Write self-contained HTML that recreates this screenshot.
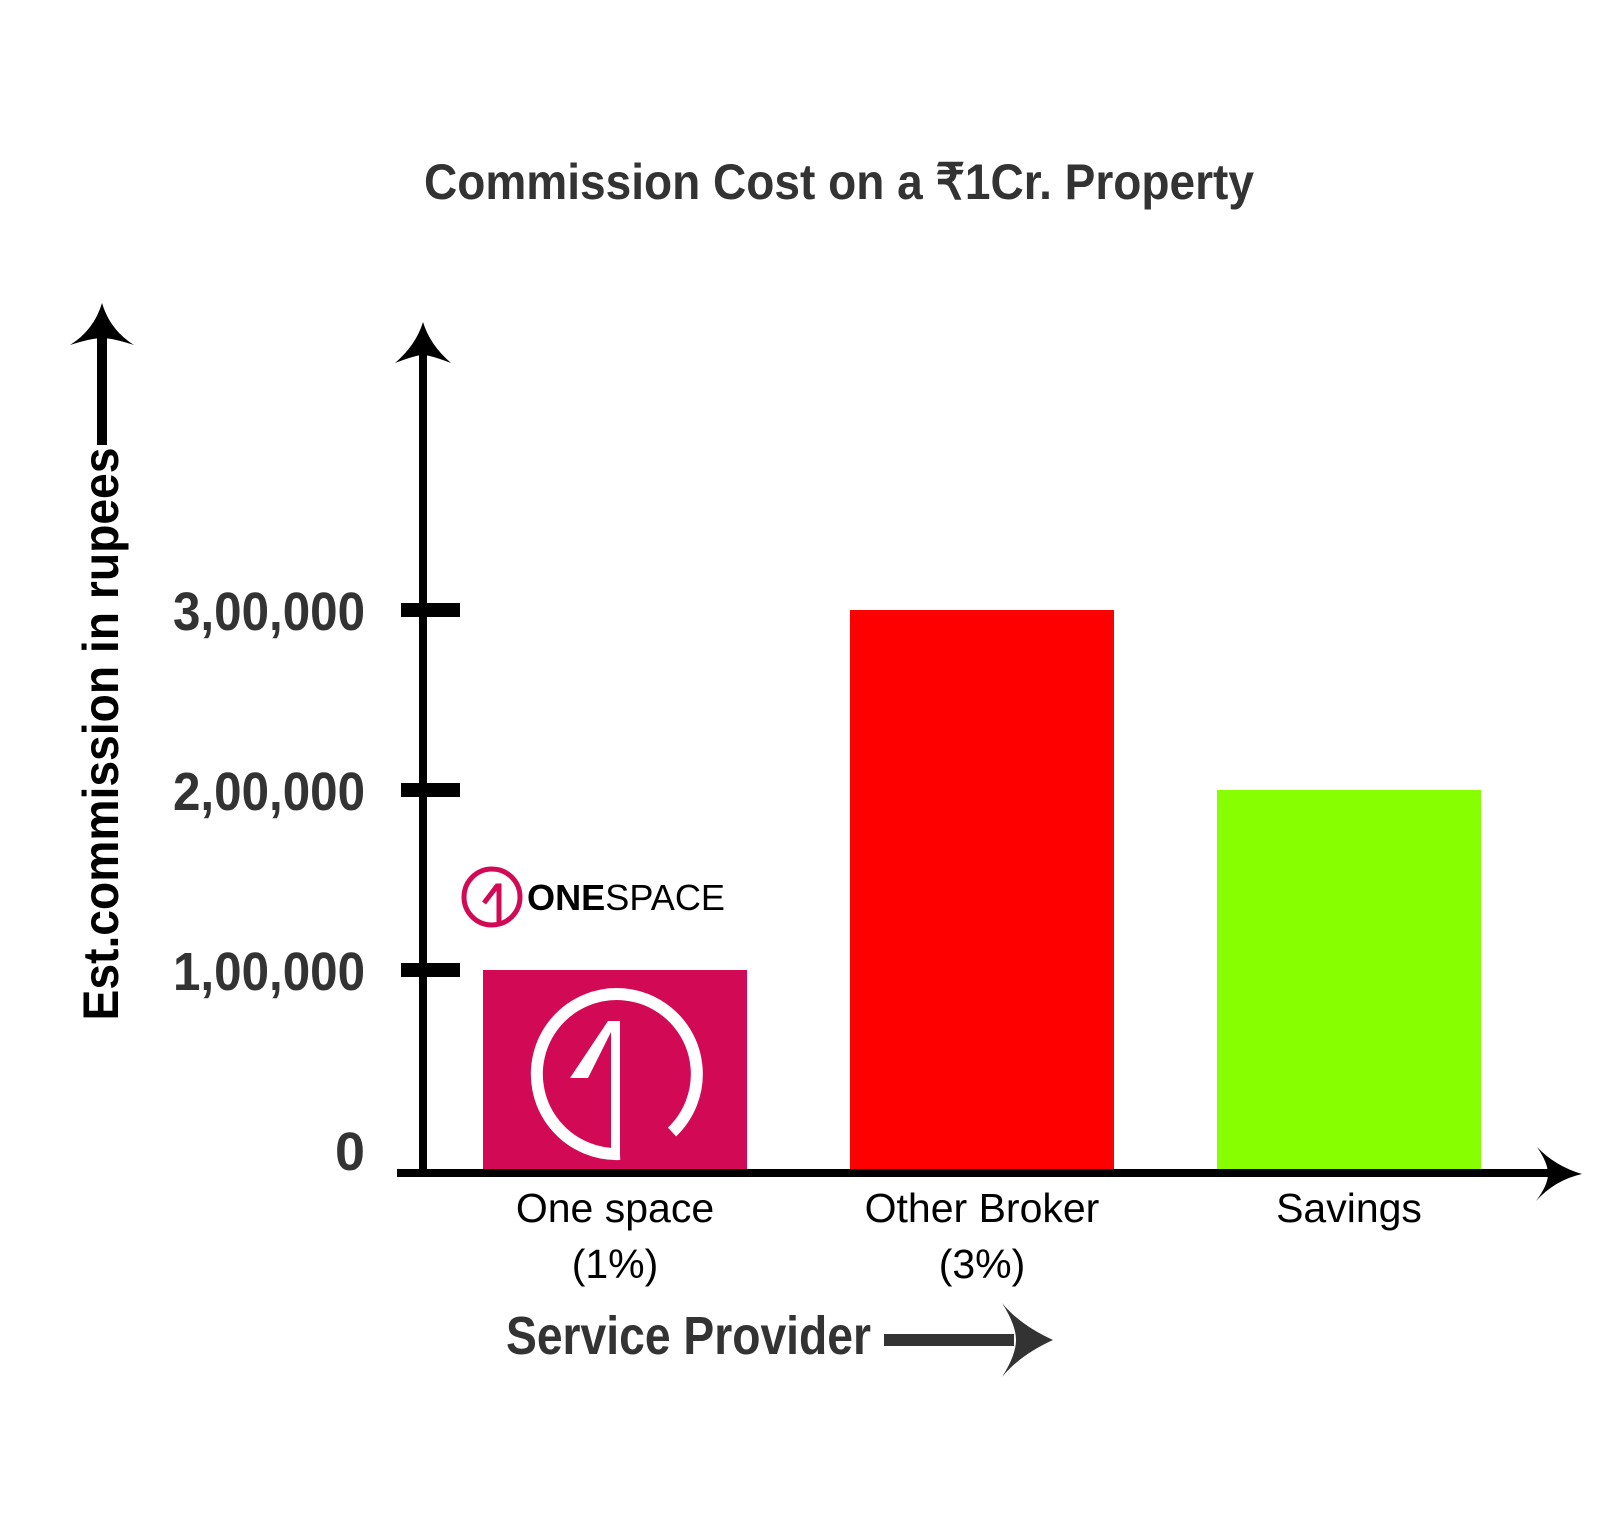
<!DOCTYPE html>
<html><head><meta charset="utf-8"><style>
html,body{margin:0;padding:0;background:#fff;}
svg{display:block;}
</style></head><body>
<svg id="chart" width="1597" height="1525" viewBox="0 0 1597 1525" xmlns="http://www.w3.org/2000/svg">
<rect width="1597" height="1525" fill="#fff"/>
<text x="839" y="199" text-anchor="middle" font-family="Liberation Sans, sans-serif" font-weight="bold" font-size="50" fill="#333" textLength="830" lengthAdjust="spacingAndGlyphs">Commission Cost on a ₹1Cr. Property</text>
<g>
<text transform="translate(118,734) rotate(-90)" text-anchor="middle" font-family="Liberation Sans, sans-serif" font-weight="bold" font-size="50" fill="#000" textLength="573" lengthAdjust="spacingAndGlyphs">Est.commission in rupees</text>
<rect x="97" y="335" width="10" height="110" fill="#000"/>
<path d="M102 303 Q110 330 134 345 Q112 338 102 338 Q92 338 70 345 Q94 330 102 303Z" fill="#000"/>
</g>
<g id="bars"></g>
<g id="axes">
<rect x="419" y="345" width="8" height="832" fill="#000"/>
<path d="M423 322 Q430 345 451 363 Q430 355 423 355 Q416 355 395 363 Q416 345 423 322Z" fill="#000"/>
<rect x="397" y="1169" width="1160" height="8" fill="#000"/>
<path d="M1582 1174 Q1555 1180 1536 1201 Q1548 1185 1548 1174 Q1548 1163 1537 1147 Q1555 1166 1582 1174Z" fill="#000"/>
</g>
<g>
<circle cx="492" cy="897" r="28" fill="none" stroke="#d20a55" stroke-width="5"/>
<path d="M484 903 L497 886 L499 886 L499 926" fill="none" stroke="#d20a55" stroke-width="5"/>
<text x="527" y="910" font-family="Liberation Sans, sans-serif" font-size="36" fill="#000" textLength="198" lengthAdjust="spacingAndGlyphs"><tspan font-weight="bold">ONE</tspan>SPACE</text>
</g>
<text id="x-title" x="506" y="1354" font-family="Liberation Sans, sans-serif" font-weight="bold" font-size="54" fill="#333" textLength="365" lengthAdjust="spacingAndGlyphs">Service Provider</text>
<g>
<rect x="884" y="1334" width="130" height="12" fill="#333"/>
<path d="M1053 1340 Q1020 1355 1002 1377 Q1016 1355 1016 1340 Q1016 1325 1002 1303 Q1020 1325 1053 1340Z" fill="#333"/>
</g>
</svg>
<script>
const categories = ["One space (1%)", "Other Broker (3%)", "Savings"];
const labelLine1 = ["One space", "Other Broker", "Savings"];
const labelLine2 = ["(1%)", "(3%)", ""];
const values = [100000, 300000, 200000];
const barColors = ["#d20a55", "#ff0000", "#88ff00"];
const tickValues = [0, 100000, 200000, 300000];
const tickLabels = ["0", "1,00,000", "2,00,000", "3,00,000"];

const NS = "http://www.w3.org/2000/svg";
const y0 = 1173;
// hand-drawn axis calibration (piecewise, per 1 lakh segment)
function yScale(v){
  const seg = [203, 180, 180];
  let y = y0, rem = v / 100000, i = 0;
  while (rem > 0 && i < seg.length) { const s = Math.min(rem, 1); y -= s * seg[i]; rem -= s; i++; }
  if (rem > 0) y -= rem * 180;
  return y;
}
function xCenter(i){ return 615 + i * 367; }
const barW = 264;

const bars = document.getElementById('bars');
values.forEach((v,i)=>{
  const r = document.createElementNS(NS,'rect');
  r.setAttribute('x', xCenter(i) - barW/2);
  r.setAttribute('y', yScale(v));
  r.setAttribute('width', barW);
  r.setAttribute('height', y0 - yScale(v));
  r.setAttribute('fill', barColors[i]);
  
  
  bars.appendChild(r);
  const t1 = document.createElementNS(NS,'text');
  t1.setAttribute('x', xCenter(i)); t1.setAttribute('y', 1222);
  t1.setAttribute('text-anchor','middle');
  t1.setAttribute('font-family','Liberation Sans, sans-serif');
  t1.setAttribute('font-size','41');
  t1.textContent = labelLine1[i];
  
  
  bars.appendChild(t1);
  if (labelLine2[i]) {
    const t2 = document.createElementNS(NS,'text');
    t2.setAttribute('x', xCenter(i)); t2.setAttribute('y', 1278);
    t2.setAttribute('text-anchor','middle');
    t2.setAttribute('font-family','Liberation Sans, sans-serif');
    t2.setAttribute('font-size','41');
    t2.textContent = labelLine2[i];
    
    
    bars.appendChild(t2);
  }
});
// big logo inside first bar
const lg = document.createElementNS(NS,'g');


const cx = xCenter(0) - 5, cy = yScale(values[0]) + 100;
const arc = document.createElementNS(NS,'path');
arc.setAttribute('d', 'M'+(cx+10)+' '+(cy+84)+' A80 80 0 1 1 '+(cx+62)+' '+(cy+62));
arc.setAttribute('fill','none'); arc.setAttribute('stroke','#fff'); arc.setAttribute('stroke-width','12');
lg.appendChild(arc);
const one = document.createElementNS(NS,'path');
one.setAttribute('d', 'M'+(cx-40)+' '+(cy+8)+' L'+(cx-2)+' '+(cy-49)+' L'+(cx+10)+' '+(cy-49)+' L'+(cx+10)+' '+(cy+82)+' L'+(cx+1)+' '+(cy+82)+' L'+(cx+1)+' '+(cy-38)+' L'+(cx-22)+' '+(cy+8)+'Z');
one.setAttribute('fill','#fff');
lg.appendChild(one);
bars.appendChild(lg);

const axes = document.getElementById('axes');
tickValues.forEach((v,i)=>{
  const y = yScale(v);
  if (v > 0) {
    const tk = document.createElementNS(NS,'rect');
    tk.setAttribute('x', 401); tk.setAttribute('y', y - 7);
    tk.setAttribute('width', 59); tk.setAttribute('height', 14);
    tk.setAttribute('fill', '#000');
    
    
    axes.appendChild(tk);
  }
  const t = document.createElementNS(NS,'text');
  t.setAttribute('x', 365); t.setAttribute('y', (v === 0 ? y - 3 : y + 20));
  t.setAttribute('text-anchor','end');
  t.setAttribute('font-family','Liberation Sans, sans-serif');
  t.setAttribute('font-weight','bold');
  t.setAttribute('font-size','54');
  t.setAttribute('fill','#333');
  if (v !== 0) { t.setAttribute('textLength', 192); t.setAttribute('lengthAdjust','spacingAndGlyphs'); }
  else { t.setAttribute('textLength', 30); t.setAttribute('lengthAdjust','spacingAndGlyphs'); }
  t.textContent = tickLabels[i];
  
  
  axes.appendChild(t);
});
</script>
</body></html>
